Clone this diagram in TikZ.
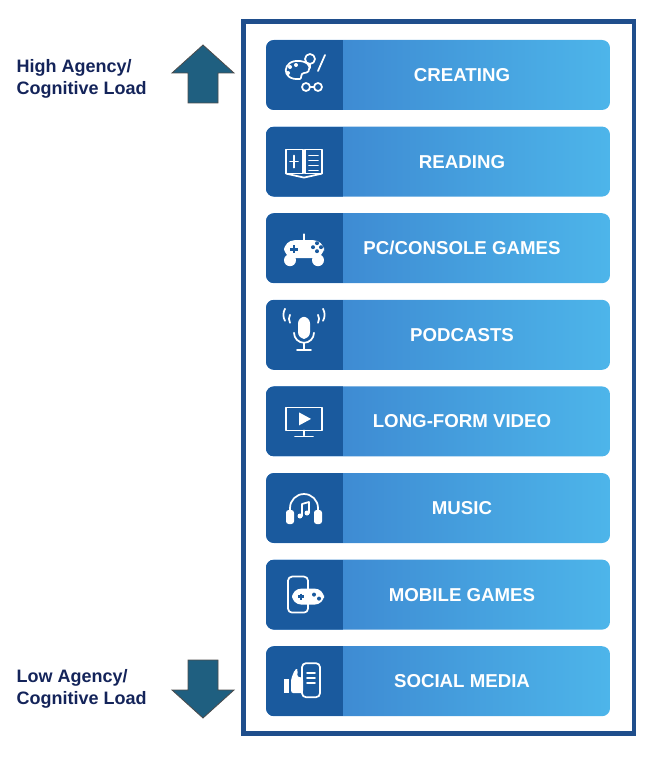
\documentclass[tikz,border=0pt]{standalone}
\usepackage{fontspec}
\setmainfont{Liberation Sans}
\usetikzlibrary{arrows.meta, positioning, calc}

\definecolor{framenavy}{HTML}{1F4E8C}
\definecolor{iconblue}{HTML}{1A5A9E}
\definecolor{barleft}{HTML}{3A7FCC}
\definecolor{barright}{HTML}{4DB5EA}
\definecolor{arrowteal}{HTML}{1F5F80}
\definecolor{labelnavy}{HTML}{14245A}

\begin{document}
\begin{tikzpicture}[
    x=0.75pt, y=-0.75pt,
    barlabel/.style={text=white, font=\fontsize{14}{16}\selectfont\bfseries},
    sidelabel/.style={text=labelnavy, font=\fontsize{13.5}{17}\selectfont\bfseries, align=left, anchor=west},
    glyph/.style={draw=white, line width=1.3pt, line cap=round, line join=round},
    updown/.style={fill=arrowteal, draw=black!70, line width=0.6pt},
]
    \useasboundingbox (0,0) rectangle (668,777);

    % outer frame
    \node[draw=framenavy, line width=3.5pt, minimum width=293pt, minimum height=534pt,
          inner sep=0pt] (frame) at (438.5,377.5) {};

    % bars
    \foreach \i/\name/\txt in {0/creating/CREATING, 1/reading/READING,
        2/games/{PC/CONSOLE GAMES}, 3/podcasts/PODCASTS, 4/video/LONG-FORM VIDEO,
        5/music/MUSIC, 6/mobile/MOBILE GAMES, 7/social/SOCIAL MEDIA}{
        \pgfmathsetmacro{\top}{40+86.6*\i}
        \begin{scope}
            \clip[rounded corners=6pt] (266,\top) rectangle (610,\top+70);
            \shade[left color=barleft, right color=barright] (266,\top) rectangle (610,\top+70);
            \fill[iconblue] (266,\top) rectangle (343,\top+70);
        \end{scope}
        \node[barlabel] (\name) at (462,\top+35) {\txt};
        \coordinate (icon\i) at (304,\top+35);
    }

    % icons
    \begin{scope}[shift={(icon0)}]
        \draw[glyph] (-4,4) .. controls (-24,6) and (-22,-16) .. (-4,-14)
              .. controls (8,-13) and (8,-2) .. (0,-2) .. controls (-4,-2) and (-2,4) .. (-4,4);
        \foreach \p in {(-14,-8),(-8,-10),(-16,-2)} \fill[white] \p circle (2);
        \draw[glyph] (6,-16) circle (5); \draw[glyph] (6,-11) -- (6,-7);
        \draw[glyph] (14,-4) -- (21,-20);
        \draw[glyph] (2,12) circle (4) (14,12) circle (4) (6,12) -- (10,12);
    \end{scope}
    \begin{scope}[shift={(icon1)}]
        \draw[glyph] (-18,-12) rectangle (-1,12) (1,-12) rectangle (18,12);
        \draw[glyph] (-18,12) -- (0,16) -- (18,12);
        \foreach \yy in {-6,-1,4,9} \draw[glyph] (5,\yy) -- (14,\yy);
        \draw[glyph] (-10,-6) -- (-10,6) (-14,0) -- (-6,0);
    \end{scope}
    \begin{scope}[shift={(icon2)}]
        \fill[white, rounded corners=8pt] (-20,-8) rectangle (20,10);
        \fill[white] (-14,12) circle (6) (14,12) circle (6);
        \draw[iconblue, line width=2pt] (-14,1) -- (-6,1) (-10,-3) -- (-10,5);
        \fill[iconblue] (9,-1) circle (2) (13,3) circle (2) (13,-5) circle (2) (17,-1) circle (2);
        \draw[glyph] (0,-8) -- (0,-14);
    \end{scope}
    \begin{scope}[shift={(icon3)}]
        \fill[white, rounded corners=5pt] (-6,-18) rectangle (6,4);
        \draw[glyph] (-10,-2) arc (180:0:10);
        \draw[glyph] (0,8) -- (0,15) (-7,15) -- (7,15);
        \draw[glyph] (-14,-12) arc (150:210:8) (14,-12) arc (30:-30:8);
        \draw[glyph] (-19,-14) arc (150:210:12) (19,-14) arc (30:-30:12);
    \end{scope}
    \begin{scope}[shift={(icon4)}]
        \draw[glyph] (-18,-14) rectangle (18,9);
        \fill[white] (-5,-9) -- (7,-2.5) -- (-5,4) -- cycle;
        \draw[glyph] (0,9) -- (0,14) (-9,15) -- (9,15);
    \end{scope}
    \begin{scope}[shift={(icon5)}]
        \draw[glyph] (-14,8) -- (-14,0) arc (180:360:14) -- (14,8);
        \fill[white, rounded corners=2pt] (-18,2) rectangle (-10,16) (10,2) rectangle (18,16);
        \draw[glyph] (-2,8) -- (-2,-4) -- (5,-6) -- (5,5);
        \fill[white] (-4,8) circle (2.5) (3,5) circle (2.5);
    \end{scope}
    \begin{scope}[shift={(icon6)}]
        \draw[glyph, rounded corners=3pt] (-16,-18) rectangle (4,18);
        \fill[white, rounded corners=7pt] (-12,-6) rectangle (20,10);
        \draw[iconblue, line width=1.8pt] (-6,2) -- (0,2) (-3,-1) -- (-3,5);
        \fill[iconblue] (10,0) circle (2) (15,4) circle (2);
    \end{scope}
    \begin{scope}[shift={(icon7)}]
        \draw[glyph, rounded corners=3pt] (-2,-18) rectangle (16,16);
        \foreach \yy in {-8,-3,2} \draw[glyph] (3,\yy) -- (11,\yy);
        \fill[white] (-20,-2) rectangle (-15,12);
        \fill[white, rounded corners=2pt] (-13,-2) -- (-9,-12) -- (-6,-12) -- (-7,-4) -- (-1,-4)
              -- (-1,12) -- (-13,12) -- cycle;
    \end{scope}

    % side arrows
    \node[updown, minimum size=1pt, inner sep=0pt] (uparrow) at (203,74) {};
    \fill[updown] (uparrow.center) ++(0,-29) -- ++(31,28) -- ++(-16,0) -- ++(0,30)
        -- ++(-30,0) -- ++(0,-30) -- ++(-16,0) -- cycle;
    \node[updown, minimum size=1pt, inner sep=0pt] (downarrow) at (203,689) {};
    \fill[updown] (downarrow.center) ++(0,29) -- ++(31,-28) -- ++(-16,0) -- ++(0,-30)
        -- ++(-30,0) -- ++(0,30) -- ++(-16,0) -- cycle;

    % side labels
    \node[sidelabel] (high) at (12,79) {High Agency/\\Cognitive Load};
    \node[sidelabel] (low) at (12,689) {Low Agency/\\Cognitive Load};
\end{tikzpicture}
\end{document}
